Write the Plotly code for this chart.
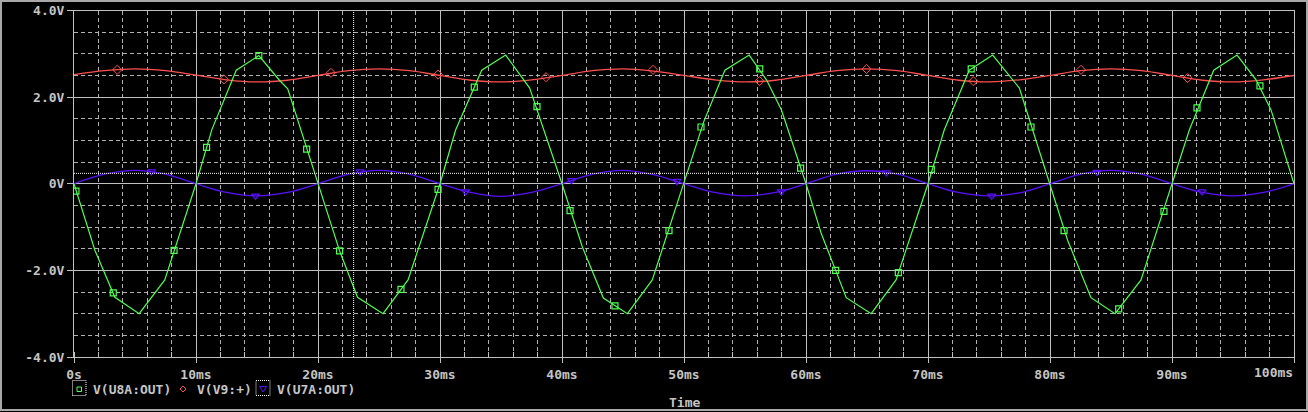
import plotly.graph_objects as go

W, H = 1308, 412

# plot area edges, screen pixels
X_LEFT, X_RIGHT = 74, 1294
Y_TOP, Y_BOTTOM = 10.5, 357

GRID = "#c0c0c0"
TEXT = "#c4c4c4"
FONT = "DejaVu Sans Mono"

GREEN = "#50ff50"
RED = "#ff5050"
BLUE = "#5a10ff"

# V(U8A:OUT): coarse transient, vertices (ms, V)
u8a_t = [0.0, 1.72, 3.35, 5.34, 7.44, 10.0, 11.3, 13.3, 15.15, 16.84, 17.52, 20.0,
         21.77, 23.24, 25.33, 27.38, 30.0, 31.28, 33.42, 35.38, 37.35, 40.0,
         41.67, 43.39, 45.36, 47.4, 50.0, 51.63, 53.35, 55.34, 56.76, 57.98, 60.0,
         61.25, 62.43, 63.3, 65.34, 67.38, 70.0, 71.33, 73.38, 75.3, 77.49, 80.0,
         81.45, 83.36, 85.33, 87.46, 90.0, 91.42, 93.42, 95.33, 96.89, 98.11, 100.0]
u8a_v = [0.0, -1.54, -2.62, -3.00, -2.22, 0.0, 1.25, 2.62, 2.96, 2.39, 2.19, 0.0,
         -1.55, -2.62, -3.00, -2.22, 0.0, 1.24, 2.62, 2.97, 2.21, 0.0,
         -1.46, -2.64, -3.00, -2.22, 0.0, 1.44, 2.62, 2.97, 2.40, 1.71, 0.0,
         -1.15, -2.00, -2.63, -3.00, -2.22, 0.0, 1.24, 2.62, 2.97, 2.21, 0.0,
         -1.31, -2.63, -3.00, -2.22, 0.0, 1.24, 2.62, 2.97, 2.40, 1.71, 0.0]

# V(V9:+) and V(U7A:OUT), read every 2.5 ms
slow_t = [i * 2.5 for i in range(41)]
v9_v = [2.52, 2.61, 2.65, 2.61, 2.51, 2.40, 2.35, 2.39,
        2.50, 2.61, 2.65, 2.61, 2.50, 2.39, 2.35, 2.40,
        2.50, 2.61, 2.65, 2.60, 2.50, 2.40, 2.35, 2.39,
        2.50, 2.61, 2.65, 2.61, 2.50, 2.39, 2.35, 2.40,
        2.50, 2.61, 2.65, 2.61, 2.50, 2.39, 2.35, 2.40,
        2.50]
u7a_v = [0.00, 0.22, 0.31, 0.22, 0.00, -0.20, -0.28, -0.20,
         0.00, 0.22, 0.31, 0.22, 0.00, -0.20, -0.29, -0.20,
         0.00, 0.22, 0.31, 0.21, 0.00, -0.20, -0.28, -0.20,
         0.00, 0.22, 0.30, 0.22, 0.00, -0.20, -0.28, -0.21,
         0.00, 0.22, 0.31, 0.22, 0.00, -0.20, -0.28, -0.20,
         0.00]

# trace markers as placed by the probe
u8a_mark_t = [0.16, 3.22, 8.2, 10.87, 15.15, 19.07, 21.77, 26.8, 29.84, 32.81, 37.95,
              40.66, 44.34, 48.77, 51.39, 56.21, 59.56, 62.43, 67.57, 70.27, 73.54,
              78.44, 81.15, 85.63, 89.34, 92.05, 97.21]
u8a_mark_v = [-0.17, -2.52, -1.54, 0.84, 2.96, 0.80, -1.55, -2.44, -0.13, 2.23, 1.78,
              -0.62, -2.82, -1.08, 1.31, 2.65, 0.36, -2.00, -2.05, 0.33, 2.65,
              1.31, -1.08, -2.89, -0.64, 1.75, 2.26]
v9_mark_t = [3.54, 12.29, 21.06, 29.84, 38.69, 47.46, 56.19, 64.96, 73.71, 82.54, 91.28]
v9_mark_v = [2.63, 2.41, 2.56, 2.52, 2.46, 2.63, 2.37, 2.65, 2.37, 2.63, 2.44]
u7a_mark_t = [6.35, 14.88, 23.46, 32.1, 40.77, 49.43, 57.98, 66.59, 75.22, 83.85, 92.46]
u7a_mark_v = [0.28, -0.28, 0.28, -0.18, 0.08, 0.06, -0.18, 0.26, -0.28, 0.27, -0.18]

# cursor position
CURSOR_T = 22.92
CURSOR_V = 0.24

x_ticks = [0, 10, 20, 30, 40, 50, 60, 70, 80, 90, 100]
x_labels = ["0s", "10ms", "20ms", "30ms", "40ms", "50ms", "60ms", "70ms", "80ms", "90ms", ""]
y_ticks = [-4, -2, 0, 2, 4]
y_labels = ["-4.0V", "-2.0V", "0V", "2.0V", "4.0V"]

legend_names = ["V(U8A:OUT)", "V(V9:+)", "V(U7A:OUT)"]


def px(x):
    return x / W


def py(y):
    return 1 - y / H


font = dict(family=FONT, size=13, color=TEXT, weight="bold")

fig = go.Figure()

fig.add_trace(go.Scatter(x=slow_t, y=v9_v, mode="lines", line=dict(color=RED, width=1.3, shape="spline")))
fig.add_trace(go.Scatter(x=slow_t, y=u7a_v, mode="lines", line=dict(color=BLUE, width=1.3, shape="spline")))
fig.add_trace(go.Scatter(x=u8a_t, y=u8a_v, mode="lines", line=dict(color=GREEN, width=1.2)))

fig.add_trace(go.Scatter(x=v9_mark_t, y=v9_mark_v, mode="markers",
                         marker=dict(symbol="diamond-open", size=7, color=RED, line=dict(width=1))))
fig.add_trace(go.Scatter(x=u7a_mark_t, y=u7a_mark_v, mode="markers",
                         marker=dict(symbol="triangle-down-open", size=7, color=BLUE, line=dict(width=1.2))))
fig.add_trace(go.Scatter(x=u8a_mark_t, y=u8a_mark_v, mode="markers",
                         marker=dict(symbol="square-open", size=6, color=GREEN, line=dict(width=1.2))))

# cursor cross-hair
fig.add_shape(type="line", x0=CURSOR_T, x1=CURSOR_T, y0=-4, y1=4, xref="x", yref="y",
              line=dict(color="white", width=1, dash="1px,1px"), layer="above")
fig.add_shape(type="line", x0=0, x1=100, y0=CURSOR_V, y1=CURSOR_V, xref="x", yref="y",
              line=dict(color="white", width=1, dash="1px,1px"), layer="above")

# window frame
fig.add_shape(type="rect", xref="paper", yref="paper", x0=px(1), x1=px(1307), y0=py(410), y1=py(1),
              line=dict(color="#a8a8a8", width=2))

# legend keys
box = dict(color="white", width=1, dash="1px,1px")
fig.add_shape(type="rect", xref="paper", yref="paper", x0=px(72.5), x1=px(86), y0=py(395.5), y1=py(380.5), line=box)
fig.add_shape(type="rect", xref="paper", yref="paper", x0=px(77), x1=px(81.5), y0=py(391.5), y1=py(387),
              line=dict(color=GREEN, width=1))
fig.add_shape(type="path", xref="paper", yref="paper",
              path=f"M {px(183)},{py(386)} L {px(186)},{py(389)} L {px(183)},{py(392)} L {px(180)},{py(389)} Z",
              line=dict(color=RED, width=1))
fig.add_shape(type="rect", xref="paper", yref="paper", x0=px(256), x1=px(270), y0=py(395.5), y1=py(380.5), line=box)
fig.add_shape(type="path", xref="paper", yref="paper",
              path=f"M {px(259.5)},{py(386.5)} L {px(266.5)},{py(386.5)} L {px(263)},{py(392)} Z",
              line=dict(color=BLUE, width=1))

for name, x in zip(legend_names, [91, 195, 275]):
    fig.add_annotation(text=name, xref="paper", yref="paper", x=px(x), y=py(389),
                       xanchor="left", yanchor="middle", showarrow=False, font=font)

fig.add_annotation(text="100ms", xref="paper", yref="paper", x=px(X_RIGHT + 1), y=py(372.5),
                   xanchor="right", yanchor="middle", showarrow=False, font=font)
fig.add_annotation(text="Time", xref="paper", yref="paper", x=px(684), y=py(402),
                   xanchor="center", yanchor="middle", showarrow=False, font=font)

fig.update_layout(
    width=W,
    height=H,
    margin=dict(l=0, r=0, t=0, b=0, autoexpand=False),
    paper_bgcolor="black",
    plot_bgcolor="black",
    showlegend=False,
    font=font,
    xaxis=dict(
        domain=[px(X_LEFT), px(X_RIGHT)],
        range=[0, 100],
        automargin=False,
        tickvals=x_ticks,
        ticktext=x_labels,
        ticks="outside",
        ticklen=5,
        tickcolor=GRID,
        showgrid=True,
        gridcolor=GRID,
        gridwidth=1,
        showline=True,
        linecolor=GRID,
        linewidth=1,
        mirror=True,
        zeroline=False,
        tickfont=font,
        minor=dict(dtick=2, ticks="inside", ticklen=5, tickcolor=GRID,
                   showgrid=True, gridcolor="#b0b0b0", griddash="4px,3px"),
    ),
    yaxis=dict(
        domain=[py(Y_BOTTOM), py(Y_TOP)],
        range=[-4, 4],
        automargin=False,
        tickvals=y_ticks,
        ticktext=y_labels,
        ticks="outside",
        ticklen=6,
        tickcolor=GRID,
        showgrid=True,
        gridcolor=GRID,
        gridwidth=1,
        showline=True,
        linecolor=GRID,
        linewidth=1,
        mirror=True,
        zeroline=False,
        tickfont=font,
        minor=dict(dtick=0.5, showgrid=True, gridcolor="#b0b0b0", griddash="4px,3px"),
    ),
)

fig.write_html("out.html", config={"displayModeBar": False},
               post_script="document.body.style.margin='0';")
